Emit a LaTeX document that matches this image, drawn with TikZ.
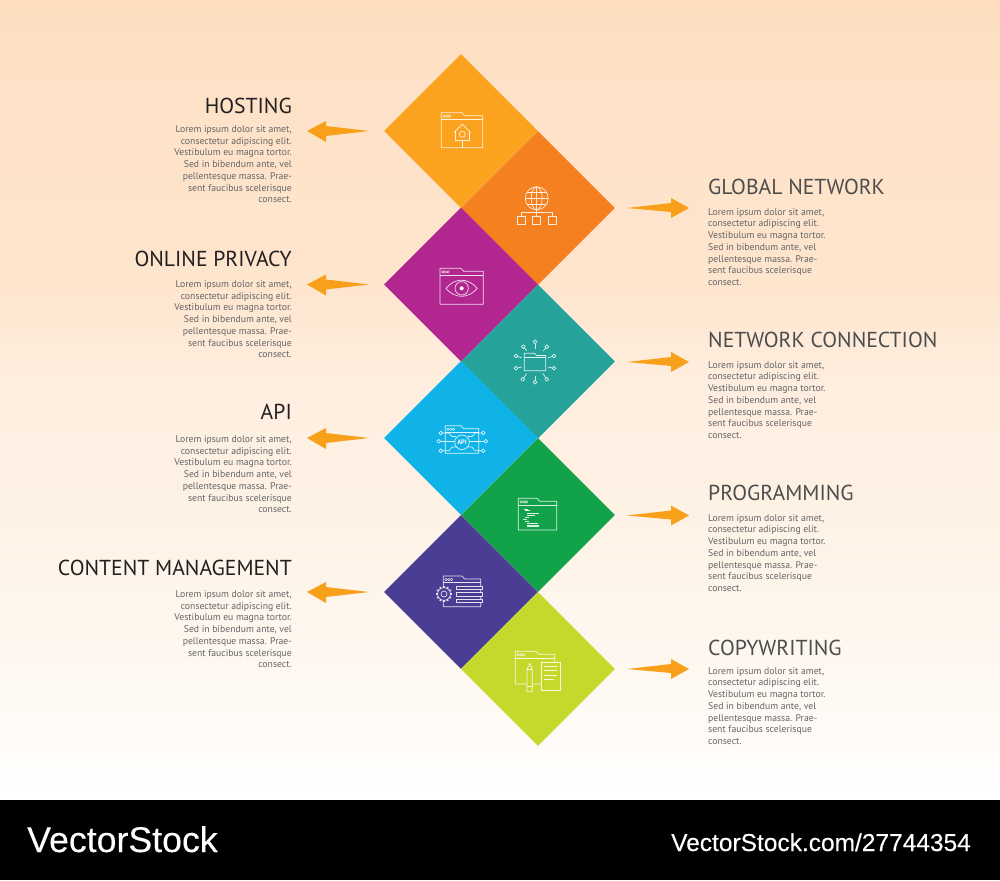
\documentclass[tikz,border=0pt]{standalone}
\usepackage{fontspec}
\setmainfont{PT Sans}
\newfontfamily\wmfont[FakeBold=0.2]{Liberation Sans}
\usetikzlibrary{shapes.geometric,calc}
\definecolor{cHost}{HTML}{FBA31F}
\definecolor{cGlob}{HTML}{F58020}
\definecolor{cPriv}{HTML}{B1268F}
\definecolor{cConn}{HTML}{25A29A}
\definecolor{cApi}{HTML}{10B3E8}
\definecolor{cProg}{HTML}{11A24A}
\definecolor{cCont}{HTML}{4A3D94}
\definecolor{cCopy}{HTML}{C5D92D}
\definecolor{cArrow}{HTML}{F9A01B}
\definecolor{cTitleL}{HTML}{231F20}
\definecolor{cTitleR}{HTML}{4D4D4D}
\definecolor{cBody}{HTML}{636466}
\definecolor{bgA}{HTML}{FDDDBE}
\definecolor{bgB}{HTML}{FEE2C8}
\definecolor{bgC}{HTML}{FEE5CE}
\definecolor{bgD}{HTML}{FEEEDF}
\definecolor{bgE}{HTML}{FEF3E7}
\definecolor{bgF}{HTML}{FEF9F3}
\pgfdeclareverticalshading{bgshade}{100bp}{color(0bp)=(white); color(25bp)=(white); color(31.25bp)=(bgF); color(41.25bp)=(bgE); color(51.25bp)=(bgD); color(57.2bp)=(bgC); color(68.75bp)=(bgB); color(75bp)=(bgA); color(100bp)=(bgA)}
\tikzset{
  tile/.style={diamond,aspect=1,inner sep=0pt,minimum width=154pt,minimum height=154pt,fill=#1},
  titleL/.style={anchor=base east,inner sep=0pt,text=cTitleL,font=\fontsize{21.65}{24}\selectfont},
  titleR/.style={anchor=base west,inner sep=0pt,text=cTitleR,font=\fontsize{21.65}{24}\selectfont},
  bodyL/.style={anchor=north east,inner sep=0pt,align=right,text=cBody,font=\fontsize{9.7}{11.75}\selectfont},
  bodyR/.style={anchor=north west,inner sep=0pt,align=left,text=cBody,font=\fontsize{9.7}{11.75}\selectfont},
  ic/.style={draw=white,draw opacity=.85,line width=.7pt,line join=round},
  wm/.style={inner sep=0pt,text=white,anchor=base west},
}
\newcommand{\loremtxt}{Lorem ipsum dolor sit amet,\\consectetur adipiscing elit.\\Vestibulum eu magna tortor.\\Sed in bibendum ante, vel\\pellentesque massa. Prae-\\sent faucibus scelerisque\\consect.}
% left, top, right, bottom, tab end x
\newcommand{\folderic}[5]{%
  \draw[ic] (#1,#4) -- (#1,#2) -- (#5,#2) -- (#5+2.5,#2+3) -- (#3,#2+3) -- (#3,#4) -- cycle;
  \draw[ic] (#1,#2+6.8) -- (#3,#2+6.8);
  \foreach \k in {0,1,2}{\draw[ic,line width=.5pt] (#1+2.8+2.7*\k,#2+3.6) circle (1.25);}
}
\newcommand{\leftarrowshape}[2]{\fill[cArrow] (#1,#2) -- (#1+19,#2-10) -- (#1+19,#2-5) -- (#1+62,#2) -- (#1+19,#2+5) -- (#1+19,#2+11) -- cycle;}
\newcommand{\rightarrowshape}[2]{\fill[cArrow] (#1,#2) -- (#1-18,#2-10) -- (#1-18,#2-5) -- (#1-62,#2) -- (#1-18,#2+4) -- (#1-18,#2+10) -- cycle;}
\begin{document}
\begin{tikzpicture}[x=1pt,y=-1pt]
\useasboundingbox (0,0) rectangle (1000,880);
\shade[shading=bgshade] (0,0) rectangle (1000,800);
\fill[black] (0,800) rectangle (1000,880);

% tiles
\node[tile=cHost] (t1) at (461,131) {};
\node[tile=cGlob] (t2) at (538,208) {};
\node[tile=cPriv] (t3) at (461,284.5) {};
\node[tile=cConn] (t4) at (538,361.5) {};
\node[tile=cApi]  (t5) at (461,438) {};
\node[tile=cProg] (t6) at (538,515) {};
\node[tile=cCont] (t7) at (461,592) {};
\node[tile=cCopy] (t8) at (538,669) {};

% arrows
\leftarrowshape{307}{131}
\rightarrowshape{689}{208}
\leftarrowshape{307}{284.5}
\rightarrowshape{689}{362}
\leftarrowshape{307}{438}
\rightarrowshape{689}{515.5}
\leftarrowshape{307}{592}
\rightarrowshape{689}{669}

% left texts
\node[titleL] (h1) at (292,113.5) {HOSTING};
\node[bodyL] (b1) at (292,125.3) {\loremtxt};
\node[titleL] (h3) at (292,266.5) {ONLINE PRIVACY};
\node[bodyL] (b3) at (292,280.3) {\loremtxt};
\node[titleL] (h5) at (292,419.5) {API};
\node[bodyL] (b5) at (292,435.3) {\loremtxt};
\node[titleL] (h7) at (292,575) {CONTENT MANAGEMENT};
\node[bodyL] (b7) at (292,590.3) {\loremtxt};
% right texts
\node[titleR] (h2) at (708,194.8) {GLOBAL NETWORK};
\node[bodyR] (b2) at (708,208) {\loremtxt};
\node[titleR] (h4) at (708,347.8) {NETWORK CONNECTION};
\node[bodyR] (b4) at (708,361) {\loremtxt};
\node[titleR] (h6) at (708,500.8) {PROGRAMMING};
\node[bodyR] (b6) at (708,514) {\loremtxt};
\node[titleR] (h8) at (708,655.8) {COPYWRITING};
\node[bodyR] (b8) at (708,667) {\loremtxt};

% hosting icon
\folderic{441.3}{112.7}{482.7}{147.7}{462}
\draw[ic] (454,132.3) -- (462.3,124.3) -- (470.3,132.3);
\draw[ic] (455.5,131) -- (455.5,140.7) -- (469,140.7) -- (469,131);
\draw[ic] (462.3,134.3) circle (3);
\draw[ic] (462.3,140.7) -- (462.3,147.7);

% globe icon
\draw[ic] (536.7,198.3) circle (11.5);
\draw[ic] (536.7,186.8) -- (536.7,209.8);
\draw[ic] (536.7,198.3) ellipse (5.5 and 11.5);
\draw[ic] (525.2,198.3) -- (548.2,198.3);
\draw[ic] (527,192.5) -- (546.4,192.5);
\draw[ic] (527,204.1) -- (546.4,204.1);
\draw[ic] (536.7,209.8) -- (536.7,216.7);
\draw[ic] (521,216.7) -- (521,212.7) -- (552.7,212.7) -- (552.7,216.7);
\draw[ic] (517,216.7) rectangle (525,224.7);
\draw[ic] (532.7,216.7) rectangle (540.7,224.7);
\draw[ic] (548.7,216.7) rectangle (556.7,224.7);

% eye icon
\folderic{440}{268.3}{483.3}{304.3}{461}
\draw[ic] (446,288.3) .. controls (455,277.5) and (468,277.5) .. (477.3,288.3) .. controls (468,299) and (455,299) .. (446,288.3) -- cycle;
\draw[ic] (461.7,288.3) circle (6.7);
\fill[white] (461.7,288.3) circle (2);

% network connection icon
\draw[ic] (524.3,370.7) -- (524.3,353.3) -- (534.5,353.3) -- (536.5,355.5) -- (545.7,355.5) -- (545.7,370.7) -- cycle;
\draw[ic] (524.3,357.3) -- (545.7,357.3);
\foreach \cx/\cy/\ex/\ey in {535/341.7/535/349.3, 535/382.3/535/376, 523.3/346.7/526.7/350.7, 546.7/346.7/543.3/351, 554/356/548.3/357.7, 516/356/521.7/357.7, 554/368.3/548.3/367, 516/368.3/521.7/367, 522.7/379.3/526.7/373.5, 546.7/379.3/543/373.5}{
  \draw[ic] (\cx,\cy) circle (1.9);
  \draw[ic] ($(\cx,\cy)!1.9pt!(\ex,\ey)$) -- (\ex,\ey);
}

% api icon
\folderic{445.3}{425.7}{478.7}{453.3}{461}
\draw[ic,fill=cApi] (462,442.3) circle (7.3);
\node[inner sep=0pt,text=white,font=\bfseries\fontsize{6.5}{6.5}\selectfont] (apitxt) at (462,442.3) {API};
\foreach \cx/\cy in {440.7/433,438.7/441.3,440.7/450.7,483.3/433,485.7/441.3,483.3/450.7}{\draw[ic] (\cx,\cy) circle (1.9);}
\draw[ic] (442.6,433) -- (449,433) -- (452,436.5) -- (456,436.5);
\draw[ic] (440.6,441.3) -- (454.7,441.3);
\draw[ic] (442.6,450.7) -- (449,450.7) -- (452,447) -- (456,447);
\draw[ic] (481.4,433) -- (475,433) -- (472,436.5) -- (468,436.5);
\draw[ic] (483.8,441.3) -- (469.3,441.3);
\draw[ic] (481.4,450.7) -- (475,450.7) -- (472,447) -- (468,447);

% programming icon
\folderic{518.3}{498.3}{556.7}{530}{537}
\foreach \a/\b/\yy in {524/528/509,525.3/530/510.7,527.3/539/513,526.7/535/515,525/529.3/517.3,523.3/527.3/519.3,524.7/529.3/521.3,526.7/538.3/523.3}{\draw[ic,line width=.6pt] (\a,\yy) -- (\b,\yy);}
\draw[ic,line width=2.2pt] (526.7,525.8) -- (539.3,525.8);

% content management icon
\draw[ic] (443.3,586) -- (443.3,576) -- (462,576) -- (464.5,579) -- (480.7,579) -- (480.7,606.7) -- (443.3,606.7) -- (443.3,601);
\draw[ic] (443.3,582.5) -- (480.7,582.5);
\foreach \k in {0,1,2}{\draw[ic,line width=.5pt] (446.1+2.7*\k,579.6) circle (1.25);}
\foreach \k in {0,30,...,330}{\draw[ic,line width=1.6pt] (444,594)++(\k:6) -- ++(\k:2);}
\draw[ic,fill=cCont] (444,594) circle (6.4);
\draw[ic] (444,594) circle (3);
\foreach \yy in {586,592.7,599.3}{\draw[ic,fill=cCont] (456.7,\yy) rectangle (482.3,\yy+3.4);}

% copywriting icon
\folderic{515.3}{651.3}{554.7}{684}{536}
\draw[ic,fill=cCopy] (541.3,662.3) rectangle (560.3,690);
\foreach \yy/\b in {666.7/557.3,670.7/557.3,675/557.3,679.3/553.5}{\draw[ic] (544.3,\yy) -- (\b,\yy);}
\draw[ic,fill=cCopy] (527,669.3) -- (529.7,663.3) -- (532.3,669.3) -- (532.3,691.7) -- (527,691.7) -- cycle;
\draw[ic] (527,669.3) -- (532.3,669.3);
\draw[ic] (527,686.7) -- (532.3,686.7);

% watermark
\node[wm,font=\wmfont\fontsize{35.7}{36}\selectfont] (w1) at (27,852) {VectorStock};
\node[wm,font=\wmfont\fontsize{24.5}{24}\selectfont] (w2) at (671,851) {VectorStock.com/27744354};
\end{tikzpicture}
\end{document}
